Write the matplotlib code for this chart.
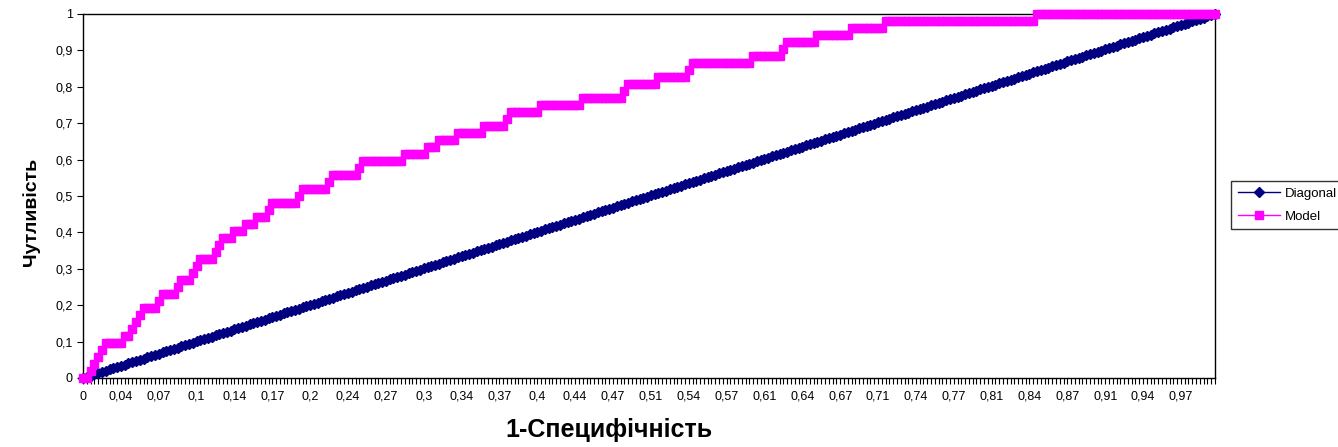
import numpy as np
import matplotlib
matplotlib.use('Agg')
import matplotlib.pyplot as plt
from matplotlib.ticker import MultipleLocator

plt.rcParams['font.family'] = ['Liberation Sans', 'DejaVu Sans']

# ROC data: 300 threshold points on a category axis
n_points = 300
x_labels = ['0', '0,04', '0,07', '0,1', '0,14', '0,17', '0,2', '0,24', '0,27', '0,3',
            '0,34', '0,37', '0,4', '0,44', '0,47', '0,51', '0,54', '0,57', '0,61', '0,64',
            '0,67', '0,71', '0,74', '0,77', '0,81', '0,84', '0,87', '0,91', '0,94', '0,97']
y_labels = ['0', '0,1', '0,2', '0,3', '0,4', '0,5', '0,6', '0,7', '0,8', '0,9', '1']

# model curve: true positives (of 52) and how many points stay at that level
n_pos = 52
model_tp = list(range(0, 53))
model_run = [2, 1, 1, 1, 1, 5, 2, 1, 1, 1,
             4, 1, 4, 1, 3, 1, 1, 4, 1, 1,
             3, 3, 3, 3, 1, 7, 1, 7, 1, 7,
             1, 11, 6, 3, 5, 7, 6, 1, 8, 11,
             11, 1, 8, 8, 1, 16, 8, 1, 8, 9,
             9, 40, 48]

model = np.repeat(np.array(model_tp) / n_pos, model_run)
diagonal = np.linspace(0, 1, n_points)  # chance line
idx = np.arange(n_points)

fig = plt.figure(figsize=(13.38, 4.47), dpi=100)
ax = fig.add_axes([83 / 1338, 1 - 378 / 447, (1215 - 83) / 1338, (378 - 14) / 447])

ax.plot(idx, diagonal, color='#000080', marker='D', markersize=5, linewidth=1,
        label='Diagonal', clip_on=False, zorder=3)
ax.plot(idx, model, color='#FF00FF', marker='s', markersize=5.4, linewidth=1,
        label='Model', clip_on=False, zorder=4)

ax.set_xlim(0, n_points - 1)
ax.set_ylim(0, 1)
ax.set_xticks(np.arange(0, n_points, 10)[:len(x_labels)])
ax.set_xticklabels(x_labels)
ax.xaxis.set_minor_locator(MultipleLocator(1))
ax.set_yticks(np.linspace(0, 1, 11))
ax.set_yticklabels(y_labels)
ax.tick_params(axis='both', which='both', direction='out', length=4, width=0.8,
               labelsize=9, colors='black')
ax.tick_params(axis='x', pad=5)
for s in ax.spines.values():
    s.set_color('black')
    s.set_linewidth(1)

fig.text(609 / 1338, 1 - 430 / 447, '1-Специфічність', ha='center', va='center',
         fontsize=18, fontweight='bold')
fig.text(31 / 1338, 1 - 212 / 447, 'Чутливість', ha='center', va='center',
         rotation=90, fontsize=14, fontweight='bold')

leg = fig.legend(loc='center left', bbox_to_anchor=(1231 / 1338, 1 - 205 / 447),
                 frameon=True, fancybox=False, edgecolor='black', fontsize=9.5,
                 handlelength=3.2, borderpad=0.5, labelspacing=0.8, handletextpad=0.4,
                 borderaxespad=0)
leg.get_frame().set_linewidth(1)

fig.savefig('out.png', dpi=100)
